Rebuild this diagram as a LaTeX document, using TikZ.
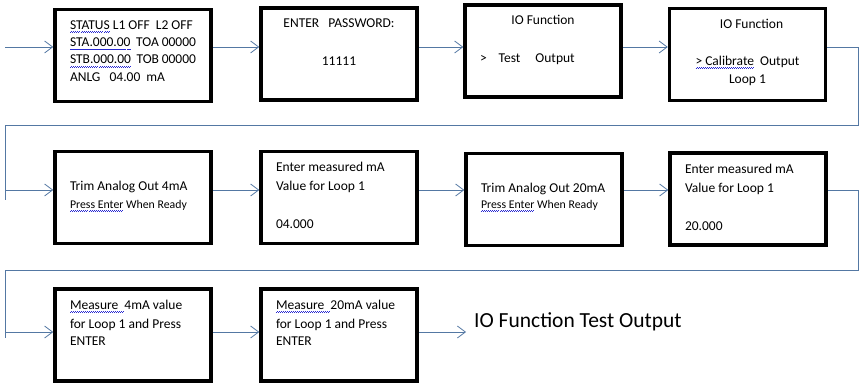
\documentclass[tikz,border=0pt]{standalone}
\usepackage{fontspec}
\setmainfont{Carlito}
\usepackage{tikz}
\usetikzlibrary{arrows.meta}
\definecolor{LnCol}{RGB}{84,120,163}
\definecolor{SqCol}{RGB}{40,40,210}
\newcommand{\squig}[1]{\leavevmode\setbox0\hbox{#1}\rlap{\textcolor{SqCol}{\hbox to \wd0{\xleaders\hbox{\rule[-3.4pt]{1pt}{0.6pt}\rule[-2.5pt]{1pt}{0.6pt}}\hfil}}}\box0\relax}
\newcommand{\lcd}[1]{\parbox[c][86pt][t]{126pt}{\rule{0pt}{17pt}#1}}
\tikzset{
  nd_scr/.style={rectangle,draw=black,line width=3.5pt,minimum width=156pt,minimum height=92pt,inner sep=0pt,font=\fontsize{13.5}{19}\selectfont},
  nd_out/.style={inner xsep=8pt,inner ysep=0pt,font=\fontsize{21.5}{26}\selectfont},
  ln/.style={draw=LnCol,line width=0.8pt},
  arr/.style={ln,-{Straight Barb[length=8pt,width=12pt]}},
}

\begin{document}
\begin{tikzpicture}[x=1pt,y=-1pt]
\useasboundingbox (0,0) rectangle (863,385);
\def\rA{47}\def\rB{190}\def\rC{332}
% Row 1
\node[nd_scr] at (133,55.5)(S1){\lcd{\squig{STATUS} L1 OFF\ \ L2 OFF\\[-1.8pt]\squig{STA.000.00}\ \ TOA 00000\\[-1.8pt]\squig{STB.000.00}\ \ TOB 00000\\[-1.8pt]ANLG\ \ \ 04.00\ \ mA}};
\node[nd_scr] at (339,54)(S2){\lcd{\centering ENTER\ \ \ PASSWORD:\\[19pt]11111}};
\node[nd_scr] at (543,51)(S3){\lcd{\makebox[\linewidth]{IO Function}\\[19pt]>\kern12pt Test\kern15pt Output}};
\node[nd_scr] at (747.5,54.5)(S4){\lcd{\centering\kern8pt IO Function\\[18pt]\squig{>\ Calibrate}\ \ Output\\[-1pt]Loop 1}};
% Row 2
\node[nd_scr] at (133,197.5)(S5){\lcd{\mbox{}\\Trim Analog Out 4mA\\[-1pt]{\fontsize{11.8}{13}\selectfont\squig{Press Enter} When Ready}}};
\node[nd_scr] at (339,197.5)(S6){\lcd{Enter measured mA\\Value for Loop 1\\[19pt]04.000}};
\node[nd_scr] at (544,199.5)(S7){\lcd{\mbox{}\\Trim Analog Out 20mA\\[-3pt]{\fontsize{11.8}{13}\selectfont\squig{Press Enter} When Ready}}};
\node[nd_scr] at (748,199)(S8){\lcd{\rule{0pt}{2pt}Enter measured mA\\Value for Loop 1\\[19pt]20.000}};
% Row 3
\node[nd_scr] at (133,335)(S9){\lcd{\squig{Measure\ \ }4mA value\\for Loop 1 and Press\\[-1pt]ENTER}};
\node[nd_scr] at (339,335)(S10){\lcd{\squig{Measure\ \ }20mA value\\for Loop 1 and Press\\[-1pt]ENTER}};
\node[nd_out,anchor=west] at (466,322)(OUT){IO Function Test Output};
% connectors
\coordinate (inA) at (5,\rA);
\coordinate (inB) at (5,\rB);
\coordinate (inC) at (5,\rC);
\coordinate (wA) at (858,125);\coordinate (wB) at (5,125);
\coordinate (wC) at (858,270);\coordinate (wD) at (5,270);
\draw[arr](inA)--(S1.west |- inA);
\draw[arr](S1.east |- inA)--(S2.west |- inA);
\draw[arr](S2.east |- inA)--(S3.west |- inA);
\draw[arr](S3.east |- inA)--(S4.west |- inA);
\draw[ln](S4.east |- inA)-|(wA)--(wB)--++(0,75);
\draw[arr](inB)--(S5.west |- inB);
\draw[arr](S5.east |- inB)--(S6.west |- inB);
\draw[arr](S6.east |- inB)--(S7.west |- inB);
\draw[arr](S7.east |- inB)--(S8.west |- inB);
\draw[ln](S8.east |- inB)-|(wC)--(wD)--++(0,68);
\draw[arr](inC)--(S9.west |- inC);
\draw[arr](S9.east |- inC)--(S10.west |- inC);
\draw[arr](S10.east |- inC)--(OUT.west |- inC);
\end{tikzpicture}
\end{document}
